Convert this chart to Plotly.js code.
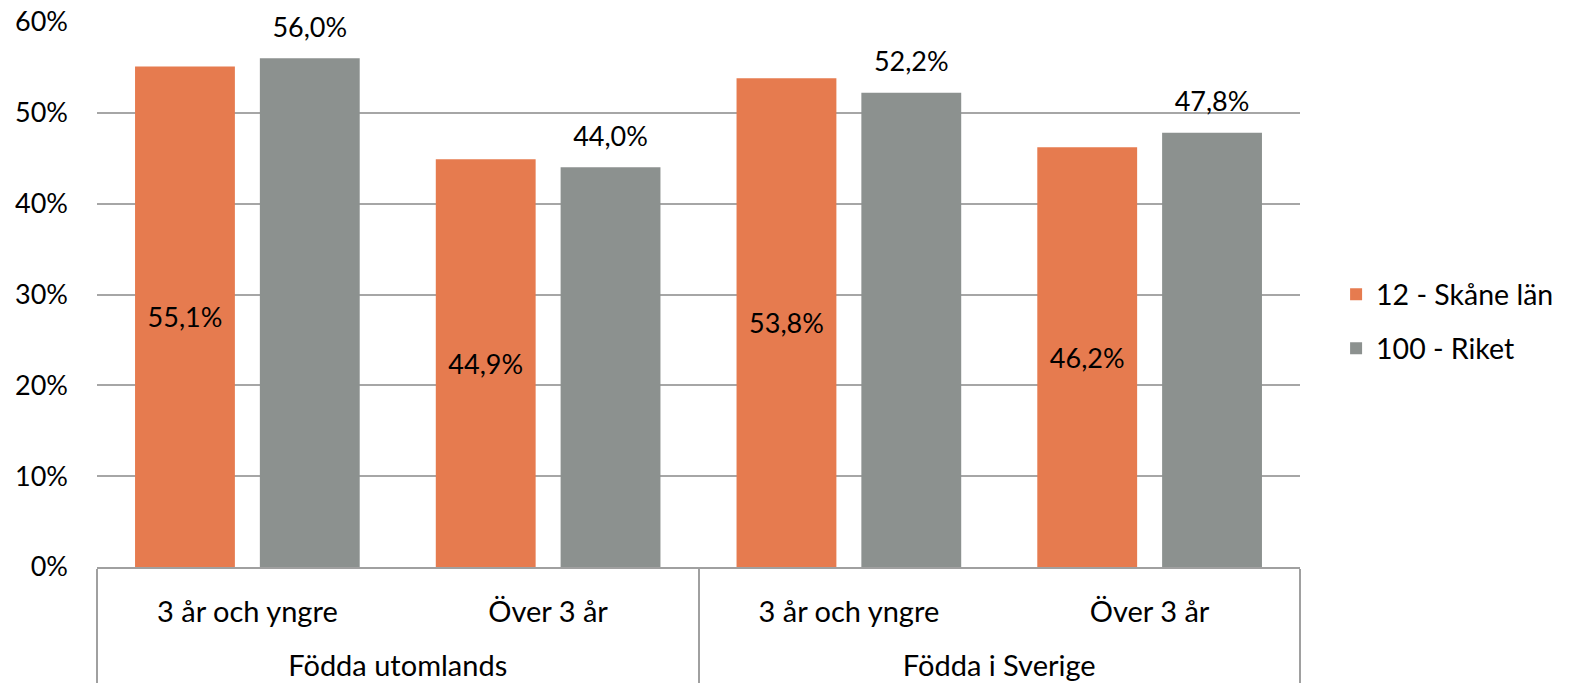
<!DOCTYPE html>
<html>
<head>
<meta charset="utf-8">
<script src="https://cdn.plot.ly/plotly-3.0.1.min.js"></script>
<style>
  html, body { margin: 0; padding: 0; background: #fff; }
  #chart { width: 1571px; height: 685px; }
</style>
</head>
<body>
<div id="chart"></div>
<script>
var outer = ["Födda utomlands", "Födda utomlands", "Födda i Sverige", "Födda i Sverige"];
var inner = ["3 år och yngre", "Över 3 år", "3 år och yngre", "Över 3 år"];
var skane = [0.551, 0.449, 0.538, 0.462];
var riket = [0.560, 0.440, 0.522, 0.478];

var font = "Lato, 'Open Sans', sans-serif";
var blank = "<br><span style='color:rgba(0,0,0,0)'>.</span>";

// invisible extra lines under the inner labels push the outer level down
function wrap(s) {
  return "<span style='font-size:29px'>" + s + "</span>";
}
var innerLabels = inner.map(function(s) { return wrap(s) + blank + blank; });
var outerLabels = outer.map(wrap);

var trace1 = {
  type: "bar",
  name: "12 - Skåne län",
  x: [outerLabels, innerLabels],
  y: skane,
  marker: { color: "#e67b4f" },
  texttemplate: "%{y:.1%}",
  textposition: "inside",
  insidetextanchor: "middle",
  textfont: { color: "#000", size: 27, family: font },
  legendgroup: "a",
  hoverinfo: "skip"
};
var trace2 = {
  type: "bar",
  name: "100 - Riket",
  x: [outerLabels, innerLabels],
  y: riket,
  marker: { color: "#8c918f" },
  texttemplate: "<span style='font-size:27px'>%{y:.1%}</span>" + blank,
  textposition: "outside",
  cliponaxis: false,
  textfont: { color: "#000", size: 12, family: font },
  legendgroup: "b",
  hoverinfo: "skip"
};

var layout = {
  width: 1571,
  height: 685,
  margin: { l: 97, r: 269, t: 22, b: 118 },
  separators: ", ",
  font: { family: font, size: 24, color: "#000" },
  barmode: "group",
  bargap: 0.17,
  bargroupgap: 0.2,
  showlegend: true,
  legend: {
    x: 1.03,
    y: 0.45,
    yanchor: "middle",
    traceorder: "grouped",
    tracegroupgap: 14,
    font: { size: 28.5 }
  },
  xaxis: {
    type: "multicategory",
    showline: true,
    linecolor: "#a0a0a0",
    linewidth: 1.5,
    showdividers: true,
    dividercolor: "#a0a0a0",
    dividerwidth: 1.5,
    ticklabelstandoff: 30,
    tickfont: { size: 19 },
    ticks: ""
  },
  yaxis: {
    range: [0, 0.6],
    dtick: 0.1,
    tickformat: ".0%",
    gridcolor: "#a6a6a6",
    gridwidth: 1.5,
    zeroline: false,
    ticklen: 0,
    ticklabelstandoff: 28,
    tickfont: { size: 27 }
  },
  plot_bgcolor: "#fff",
  paper_bgcolor: "#fff"
};

Plotly.newPlot("chart", [trace1, trace2], layout, { displayModeBar: false });
</script>
</body>
</html>
